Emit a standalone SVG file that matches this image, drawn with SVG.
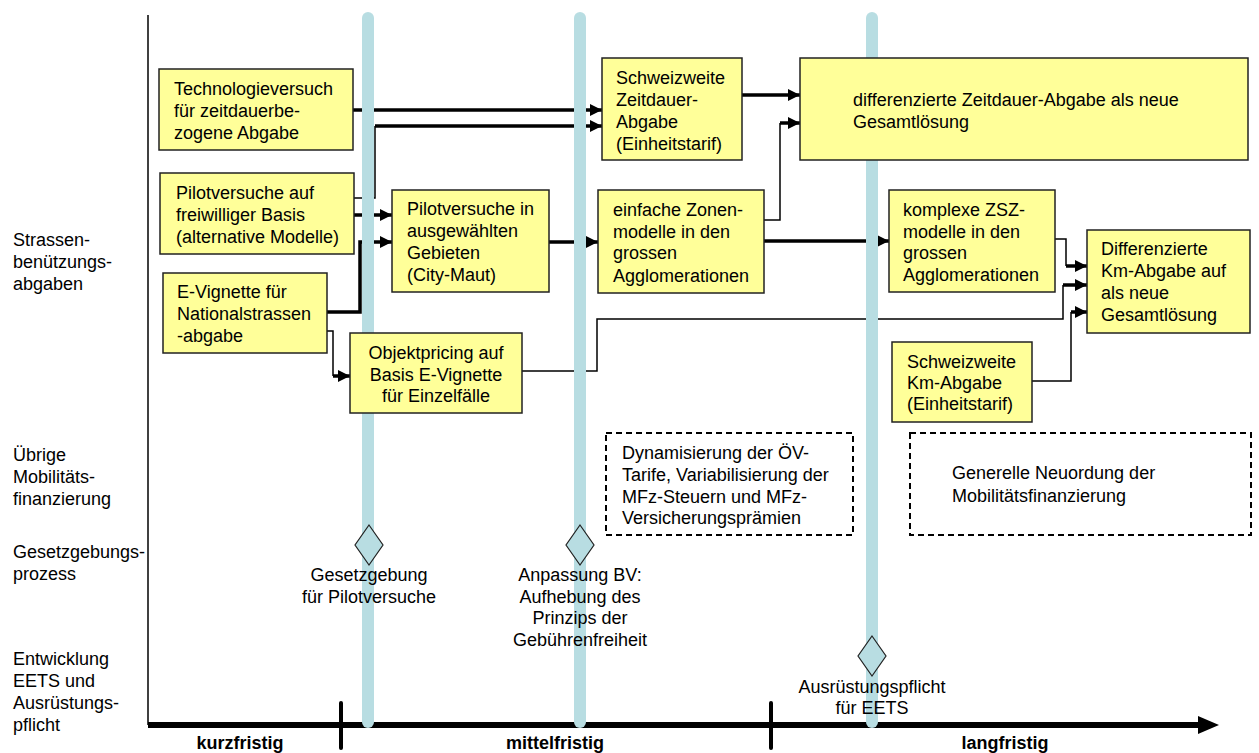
<svg xmlns="http://www.w3.org/2000/svg" width="1259" height="753" viewBox="0 0 1259 753">
<style>
text{font-family:"Liberation Sans",Arial,sans-serif;font-size:18px;fill:#000}
.b{fill:#ffff99;stroke:#222;stroke-width:1.5}
.d{fill:none;stroke:#000;stroke-width:2;stroke-dasharray:6 4}
.thick{fill:none;stroke:#000;stroke-width:3.5}
.thin{fill:none;stroke:#000;stroke-width:1.5}
.bar{stroke:#b8dde2;stroke-width:12;stroke-linecap:round}
.dia{fill:#b8dde2;stroke:#222;stroke-width:1.2}
.c{text-anchor:middle}
.bold{font-weight:bold}
</style>
<defs>
<marker id="ah" markerUnits="userSpaceOnUse" markerWidth="14" markerHeight="14" refX="12" refY="6" orient="auto">
<path d="M0,0 L12,6 L0,12 Z" fill="#000"/>
</marker>
</defs>
<rect width="1259" height="753" fill="#fff"/>

<g id="axes">
<line x1="148" y1="15" x2="148" y2="725" stroke="#000" stroke-width="1.5"/>
<line x1="148" y1="725" x2="1200" y2="725" stroke="#000" stroke-width="6"/>
<path d="M1198,716 L1219,725 L1198,734 Z" fill="#000"/>
<line x1="341" y1="703" x2="341" y2="748" stroke="#000" stroke-width="4" stroke-linecap="round"/>
<line x1="771" y1="703" x2="771" y2="748" stroke="#000" stroke-width="4" stroke-linecap="round"/>
<text x="240" y="749" class="c bold">kurzfristig</text>
<text x="555" y="749" class="c bold">mittelfristig</text>
<text x="1005" y="749" class="c bold">langfristig</text>
</g>

<g id="row-labels">
<text x="13" y="246">Strassen-</text>
<text x="13" y="268">benützungs-</text>
<text x="13" y="290">abgaben</text>
<text x="13" y="461">Übrige</text>
<text x="13" y="483">Mobilitäts-</text>
<text x="13" y="505">finanzierung</text>
<text x="13" y="558">Gesetzgebungs-</text>
<text x="13" y="580">prozess</text>
<text x="13" y="665">Entwicklung</text>
<text x="13" y="687">EETS und</text>
<text x="13" y="709">Ausrüstungs-</text>
<text x="13" y="731">pflicht</text>
</g>

<g id="connectors">
<line class="thick" x1="353" y1="110" x2="602" y2="110" marker-end="url(#ah)"/>
<polyline class="thin" points="354,198 375,198 375,126"/>
<line class="thick" x1="375" y1="126" x2="602" y2="126" marker-end="url(#ah)"/>
<line class="thick" x1="354" y1="215" x2="392" y2="215" marker-end="url(#ah)"/>
<polyline class="thick" points="327,312 360,312 360,242 392,242" marker-end="url(#ah)"/>
<polyline class="thin" points="327,331 333,331 333,376"/>
<line class="thick" x1="333" y1="376" x2="350" y2="376" marker-end="url(#ah)"/>
<polyline class="thin" points="522,371 597,371 597,319 1063,319 1063,285"/>
<line class="thick" x1="1063" y1="285" x2="1087" y2="285" marker-end="url(#ah)"/>
<line class="thick" x1="549" y1="242" x2="598" y2="242" marker-end="url(#ah)"/>
<line class="thick" x1="764" y1="241" x2="889" y2="241" marker-end="url(#ah)"/>
<polyline class="thin" points="764,220 780,220 780,123"/>
<line class="thick" x1="780" y1="123" x2="800" y2="123" marker-end="url(#ah)"/>
<line class="thick" x1="742" y1="95" x2="800" y2="95" marker-end="url(#ah)"/>
<polyline class="thin" points="1055,239 1066,239 1066,266"/>
<line class="thick" x1="1066" y1="266" x2="1087" y2="266" marker-end="url(#ah)"/>
<polyline class="thin" points="1032,381 1071,381 1071,312"/>
<line class="thick" x1="1071" y1="312" x2="1087" y2="312" marker-end="url(#ah)"/>
</g>

<g id="timebars">
<line class="bar" x1="368" y1="18" x2="368" y2="722"/>
<line class="bar" x1="580" y1="18" x2="580" y2="722"/>
<line class="bar" x1="872" y1="18" x2="872" y2="722"/>
</g>

<g id="n-technologieversuch">
<rect class="b" x="159" y="69" width="194" height="81"/>
<text x="174" y="95">Technologieversuch</text>
<text x="174" y="117">für zeitdauerbe-</text>
<text x="174" y="139">zogene Abgabe</text>
</g>
<g id="n-pilot-freiwillig">
<rect class="b" x="160" y="173" width="194" height="81"/>
<text x="176" y="199">Pilotversuche auf</text>
<text x="176" y="221">freiwilliger Basis</text>
<text x="176" y="243">(alternative Modelle)</text>
</g>
<g id="n-evignette">
<rect class="b" x="163" y="273" width="164" height="80"/>
<text x="177" y="298">E-Vignette für</text>
<text x="177" y="320">Nationalstrassen</text>
<text x="177" y="342">-abgabe</text>
</g>
<g id="n-objektpricing">
<rect class="b" x="350" y="333" width="172" height="80"/>
<text x="436" y="359" class="c">Objektpricing auf</text>
<text x="436" y="381" class="c">Basis E-Vignette</text>
<text x="436" y="402" class="c">für Einzelfälle</text>
</g>
<g id="n-pilot-gebiete">
<rect class="b" x="392" y="190" width="157" height="102"/>
<text x="407" y="215">Pilotversuche in</text>
<text x="407" y="237">ausgewählten</text>
<text x="407" y="259">Gebieten</text>
<text x="407" y="281">(City-Maut)</text>
</g>
<g id="n-zeitdauer">
<rect class="b" x="602" y="58" width="140" height="102"/>
<text x="616" y="84">Schweizweite</text>
<text x="616" y="106">Zeitdauer-</text>
<text x="616" y="128">Abgabe</text>
<text x="616" y="150">(Einheitstarif)</text>
</g>
<g id="n-zonenmodelle">
<rect class="b" x="598" y="190" width="166" height="103"/>
<text x="613" y="216">einfache Zonen-</text>
<text x="613" y="238">modelle in den</text>
<text x="613" y="259">grossen</text>
<text x="613" y="282">Agglomerationen</text>
</g>
<g id="n-diff-zeitdauer">
<rect class="b" x="800" y="58" width="448" height="102"/>
<text x="853" y="106">differenzierte Zeitdauer-Abgabe als neue</text>
<text x="853" y="128">Gesamtlösung</text>
</g>
<g id="n-zsz">
<rect class="b" x="889" y="190" width="166" height="102"/>
<text x="903" y="216">komplexe ZSZ-</text>
<text x="903" y="238">modelle in den</text>
<text x="903" y="259">grossen</text>
<text x="903" y="281">Agglomerationen</text>
</g>
<g id="n-diff-km">
<rect class="b" x="1087" y="230" width="163" height="103"/>
<text x="1101" y="255">Differenzierte</text>
<text x="1101" y="277">Km-Abgabe auf</text>
<text x="1101" y="299">als neue</text>
<text x="1101" y="321">Gesamtlösung</text>
</g>
<g id="n-km">
<rect class="b" x="892" y="342" width="140" height="80"/>
<text x="907" y="368">Schweizweite</text>
<text x="907" y="389">Km-Abgabe</text>
<text x="907" y="410">(Einheitstarif)</text>
</g>
<g id="n-oev">
<rect class="d" x="606" y="433" width="247" height="102"/>
<text x="622" y="459">Dynamisierung der ÖV-</text>
<text x="622" y="481">Tarife, Variabilisierung der</text>
<text x="622" y="503">MFz-Steuern und MFz-</text>
<text x="622" y="524">Versicherungsprämien</text>
</g>
<g id="n-neuordnung">
<rect class="d" x="910" y="433" width="341" height="102"/>
<text x="952" y="479">Generelle Neuordung der</text>
<text x="952" y="502">Mobilitätsfinanzierung</text>
</g>

<g id="m-gesetzgebung">
<path class="dia" d="M369,525 L383,545 L369,565 L355,545 Z"/>
<text x="369" y="581" class="c">Gesetzgebung</text>
<text x="369" y="603" class="c">für Pilotversuche</text>
</g>
<g id="m-bv">
<path class="dia" d="M580,525 L594,545 L580,565 L566,545 Z"/>
<text x="580" y="581" class="c">Anpassung BV:</text>
<text x="580" y="603" class="c">Aufhebung des</text>
<text x="580" y="624" class="c">Prinzips der</text>
<text x="580" y="646" class="c">Gebührenfreiheit</text>
</g>
<g id="m-eets">
<path class="dia" d="M872,636 L886,656 L872,676 L858,656 Z"/>
<text x="872" y="693" class="c">Ausrüstungspflicht</text>
<text x="872" y="714" class="c">für EETS</text>
</g>
</svg>
